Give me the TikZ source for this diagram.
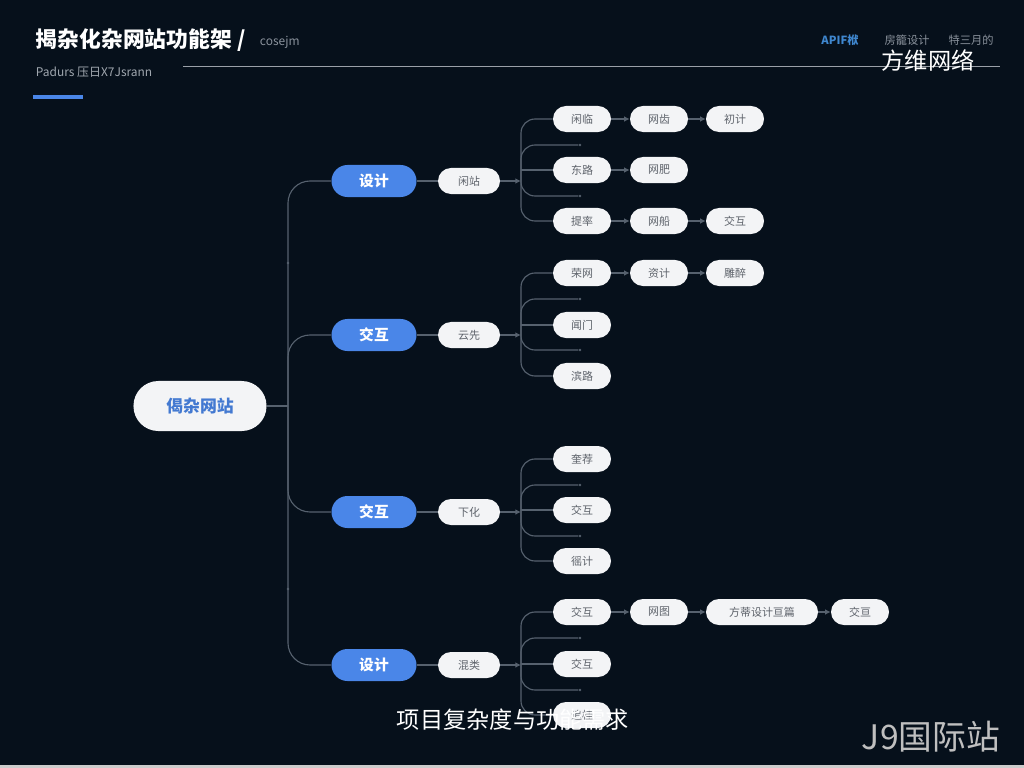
\documentclass[tikz,border=0pt]{standalone}
\usepackage{fontspec}
\setmainfont{Noto Sans CJK SC}
\usetikzlibrary{arrows.meta}
\definecolor{bgnavy}{HTML}{06101B}
\definecolor{pillblue}{HTML}{4A86E8}
\definecolor{linegrey}{HTML}{56616E}
\definecolor{textgrey}{HTML}{5E636B}
\definecolor{pillwhite}{HTML}{F3F4F6}
\definecolor{headgrey}{HTML}{8A929C}

\begin{document}
\begin{tikzpicture}[x=0.025cm,y=-0.025cm]
        \tikzstyle{rootnode}=[fill=pillwhite,rounded corners=0.62cm,minimum width=3.325cm,minimum height=1.25cm,inner sep=0pt,text=pillblue!90!black,font=\fontsize{12}{14}\selectfont\bfseries]
        \tikzstyle{topic}=[fill=pillblue,rounded corners=0.4cm,minimum width=2.125cm,minimum height=0.8cm,inner sep=0pt,text=white,font=\fontsize{10.5}{12}\selectfont\bfseries]
        \tikzstyle{sub}=[fill=pillwhite,rounded corners=0.325cm,minimum width=1.55cm,minimum height=0.65cm,inner sep=0pt,text=textgrey,font=\fontsize{7.8}{9}\selectfont]
        \tikzstyle{leaf}=[sub,minimum width=1.45cm]
        \tikzstyle{conn}=[draw=linegrey,line width=0.8pt]
        \tikzstyle{link}=[draw=linegrey,line width=0.8pt,-{Latex[length=4pt,width=4pt]}]
        \tikzstyle{stubdot}=[circle,fill=linegrey,minimum size=2pt,inner sep=0pt]

        % background and page
        \fill[bgnavy] (0,0) rectangle (1024,768);
        \useasboundingbox (0,0) rectangle (1024,768);
        \fill[black!20] (0,765) rectangle (1024,768);

        % header
        \node[anchor=west,text=white,font=\fontsize{15.5}{17}\selectfont\bfseries] (title) at (31,40) {揭杂化杂网站功能架 /};
        \node[anchor=west,text=headgrey,font=\fontsize{8.5}{10}\selectfont] (title_en) at (255,42) {cosejm};
        \node[anchor=west,text=headgrey!80,font=\fontsize{8.5}{10}\selectfont] (subtitle) at (31,72) {Padurs 压日X7Jsrann};
        \fill[pillblue] (33,95) rectangle (83,99);
        \coordinate (rule_a) at (183,66);
        \coordinate (rule_b) at (1000,66);
        \draw[linegrey!60,line width=0.5pt] (rule_a) -- (rule_b);
        \node[text=cyan!55!blue!80!white,font=\fontsize{8}{10}\selectfont\bfseries] (menu_1) at (840,40) {APIF栿};
        \node[text=headgrey,font=\fontsize{8}{10}\selectfont] (menu_2) at (907,40) {房籠设计};
        \node[text=headgrey,font=\fontsize{8}{10}\selectfont] (menu_3) at (971,40) {特三月的};

        % root and trunk
        \node[rootnode] (r) at (200,406) {偈杂网站};
        \coordinate (j_0) at (288,406);
        \draw[conn] (r) -- (j_0);

        \node[topic] (t_1) at (374,181) {设计};
        \node[topic] (t_2) at (374,335) {交互};
        \node[topic] (t_3) at (374,512) {交互};
        \node[topic] (t_4) at (374,665) {设计};
        \draw[conn,rounded corners=0.55cm] (j_0) |- (t_1);
        \draw[conn,rounded corners=0.55cm] (j_0) |- (t_2);
        \draw[conn,rounded corners=0.55cm] (j_0) |- (t_3);
        \draw[conn,rounded corners=0.55cm] (j_0) |- (t_4);
        \node[stubdot] (d_1) at (288,263) {};
        \node[stubdot] (d_2) at (288,589) {};

        \node[sub] (s_1) at (469,181) {闲站};
        \node[sub] (s_2) at (469,335) {云先};
        \node[sub] (s_3) at (469,512) {下化};
        \node[sub] (s_4) at (469,665) {混类};
        \draw[conn] (t_1) -- (s_1);
        \draw[conn] (t_2) -- (s_2);
        \draw[conn] (t_3) -- (s_3);
        \draw[conn] (t_4) -- (s_4);

        \coordinate (b_1) at (521,170);
        \coordinate (b_2) at (521,325);
        \coordinate (b_3) at (521,510);
        \coordinate (b_4) at (521,664);
        \draw[link] (s_1.east) -- (b_1 |- s_1);
        \draw[link] (s_2.east) -- (b_2 |- s_2);
        \draw[link] (s_3.east) -- (b_3 |- s_3);
        \draw[link] (s_4.east) -- (b_4 |- s_4);

        % group 1
        \node[leaf] (a_1) at (582,119) {闲临};
        \node[leaf] (a_2) at (659,119) {网齿};
        \node[leaf] (a_3) at (735,119) {初计};
        \node[leaf] (a_4) at (582,170) {东路};
        \node[leaf] (a_5) at (659,170) {网肥};
        \node[leaf] (a_6) at (582,221) {提率};
        \node[leaf] (a_7) at (659,221) {网船};
        \node[leaf] (a_8) at (735,221) {交互};
        \node[stubdot] (as_1) at (580,145) {};
        \node[stubdot] (as_2) at (580,196) {};
        \draw[conn,rounded corners=0.35cm] (b_1) |- (a_1);
        \draw[conn,rounded corners=0.35cm] (b_1) |- (as_1);
        \draw[conn] (b_1) -- (a_4);
        \draw[conn,rounded corners=0.35cm] (b_1) |- (as_2);
        \draw[conn,rounded corners=0.35cm] (b_1) |- (a_6);
        \draw[link] (a_1) -- (a_2);
        \draw[link] (a_2) -- (a_3);
        \draw[link] (a_4) -- (a_5);
        \draw[link] (a_6) -- (a_7);
        \draw[link] (a_7) -- (a_8);

        % group 2
        \node[leaf] (c_1) at (582,273) {荣网};
        \node[leaf] (c_2) at (659,273) {资计};
        \node[leaf] (c_3) at (735,273) {雕醉};
        \node[leaf] (c_4) at (582,325) {闻门};
        \node[leaf] (c_5) at (582,376) {滨路};
        \node[stubdot] (cs_1) at (580,299) {};
        \node[stubdot] (cs_2) at (580,350) {};
        \draw[conn,rounded corners=0.35cm] (b_2) |- (c_1);
        \draw[conn,rounded corners=0.35cm] (b_2) |- (cs_1);
        \draw[conn] (b_2) -- (c_4);
        \draw[conn,rounded corners=0.35cm] (b_2) |- (cs_2);
        \draw[conn,rounded corners=0.35cm] (b_2) |- (c_5);
        \draw[link] (c_1) -- (c_2);
        \draw[link] (c_2) -- (c_3);

        % group 3
        \node[leaf] (e_1) at (582,459) {奎荐};
        \node[leaf] (e_2) at (582,510) {交互};
        \node[leaf] (e_3) at (582,561) {徭计};
        \node[stubdot] (es_1) at (580,485) {};
        \node[stubdot] (es_2) at (580,536) {};
        \draw[conn,rounded corners=0.35cm] (b_3) |- (e_1);
        \draw[conn,rounded corners=0.35cm] (b_3) |- (es_1);
        \draw[conn] (b_3) -- (e_2);
        \draw[conn,rounded corners=0.35cm] (b_3) |- (es_2);
        \draw[conn,rounded corners=0.35cm] (b_3) |- (e_3);

        % group 4
        \node[leaf] (g_1) at (582,612) {交互};
        \node[leaf] (g_2) at (659,612) {网图};
        \node[leaf,minimum width=2.8cm] (g_3) at (762,612) {方蒂设计亘篇};
        \node[leaf] (g_4) at (860,612) {交亘};
        \node[leaf] (g_5) at (582,664) {交互};
        \node[leaf] (g_6) at (582,715) {追桂};
        \node[stubdot] (gs_1) at (580,638) {};
        \node[stubdot] (gs_2) at (580,690) {};
        \draw[conn,rounded corners=0.35cm] (b_4) |- (g_1);
        \draw[conn,rounded corners=0.35cm] (b_4) |- (gs_1);
        \draw[conn] (b_4) -- (g_5);
        \draw[conn,rounded corners=0.35cm] (b_4) |- (gs_2);
        \draw[conn,rounded corners=0.35cm] (b_4) |- (g_6);
        \draw[link] (g_1) -- (g_2);
        \draw[link] (g_2) -- (g_3);
        \draw[link] (g_3) -- (g_4);

        % overlays
        \node[text=white,font=\fontsize{16.5}{19}\selectfont] (caption) at (513,720) {项目复杂度与功能需求};
        \node[text=white,font=\fontsize{16.5}{19}\selectfont] (brand) at (928,61) {方维网络};
        \node[text=black!25,font=\fontsize{24}{27}\selectfont] (mark) at (931,737) {J9国际站};
\end{tikzpicture}
\end{document}
